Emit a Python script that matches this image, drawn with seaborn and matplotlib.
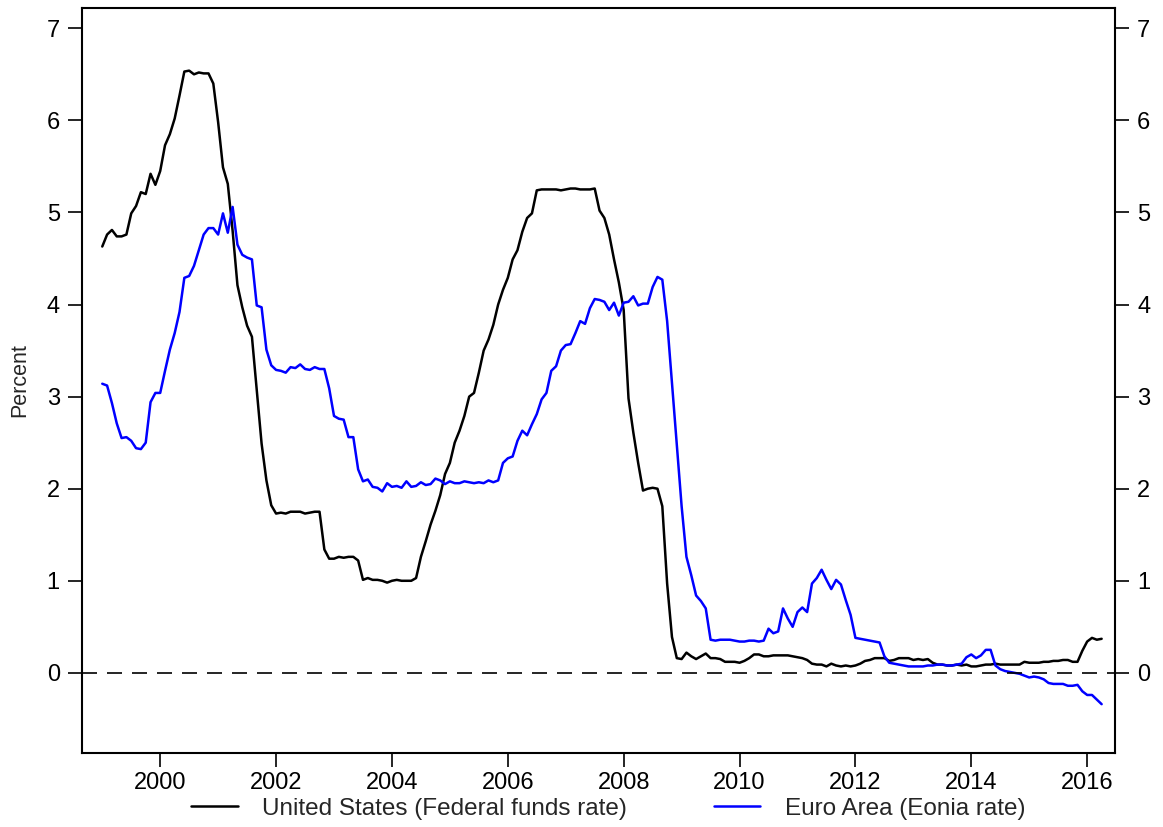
import pandas as pd
import matplotlib
matplotlib.use("Agg")
import matplotlib.pyplot as plt
import seaborn as sns

# monthly averages, Jan 1999 - Apr 2016
fed_funds = [
    4.63, 4.76, 4.81, 4.74, 4.74, 4.76, 4.99, 5.07, 5.22, 5.20, 5.42, 5.30,
    5.45, 5.73, 5.85, 6.02, 6.27, 6.53, 6.54, 6.50, 6.52, 6.51, 6.51, 6.40,
    5.98, 5.49, 5.31, 4.80, 4.21, 3.97, 3.77, 3.65, 3.07, 2.49, 2.09, 1.82,
    1.73, 1.74, 1.73, 1.75, 1.75, 1.75, 1.73, 1.74, 1.75, 1.75, 1.34, 1.24,
    1.24, 1.26, 1.25, 1.26, 1.26, 1.22, 1.01, 1.03, 1.01, 1.01, 1.00, 0.98,
    1.00, 1.01, 1.00, 1.00, 1.00, 1.03, 1.26, 1.43, 1.61, 1.76, 1.93, 2.16,
    2.28, 2.50, 2.63, 2.79, 3.00, 3.04, 3.26, 3.50, 3.62, 3.78, 4.00, 4.16,
    4.29, 4.49, 4.59, 4.79, 4.94, 4.99, 5.24, 5.25, 5.25, 5.25, 5.25, 5.24,
    5.25, 5.26, 5.26, 5.25, 5.25, 5.25, 5.26, 5.02, 4.94, 4.76, 4.49, 4.24,
    3.94, 2.98, 2.61, 2.28, 1.98, 2.00, 2.01, 2.00, 1.81, 0.97, 0.39, 0.16,
    0.15, 0.22, 0.18, 0.15, 0.18, 0.21, 0.16, 0.16, 0.15, 0.12, 0.12, 0.12,
    0.11, 0.13, 0.16, 0.20, 0.20, 0.18, 0.18, 0.19, 0.19, 0.19, 0.19, 0.18,
    0.17, 0.16, 0.14, 0.10, 0.09, 0.09, 0.07, 0.10, 0.08, 0.07, 0.08, 0.07,
    0.08, 0.10, 0.13, 0.14, 0.16, 0.16, 0.16, 0.13, 0.14, 0.16, 0.16, 0.16,
    0.14, 0.15, 0.14, 0.15, 0.11, 0.09, 0.09, 0.08, 0.08, 0.09, 0.08, 0.09,
    0.07, 0.07, 0.08, 0.09, 0.09, 0.10, 0.09, 0.09, 0.09, 0.09, 0.09, 0.12,
    0.11, 0.11, 0.11, 0.12, 0.12, 0.13, 0.13, 0.14, 0.14, 0.12, 0.12, 0.24,
    0.34, 0.38, 0.36, 0.37,
]
eonia = [
    3.14, 3.12, 2.93, 2.71, 2.55, 2.56, 2.52, 2.44, 2.43, 2.50, 2.94, 3.04,
    3.04, 3.28, 3.51, 3.69, 3.92, 4.29, 4.31, 4.42, 4.59, 4.76, 4.83, 4.83,
    4.76, 4.99, 4.78, 5.06, 4.65, 4.54, 4.51, 4.49, 3.99, 3.97, 3.51, 3.34,
    3.29, 3.28, 3.26, 3.32, 3.31, 3.35, 3.30, 3.29, 3.32, 3.30, 3.30, 3.09,
    2.79, 2.76, 2.75, 2.56, 2.56, 2.21, 2.08, 2.10, 2.02, 2.01, 1.97, 2.06,
    2.02, 2.03, 2.01, 2.08, 2.02, 2.03, 2.07, 2.04, 2.05, 2.11, 2.09, 2.05,
    2.08, 2.06, 2.06, 2.08, 2.07, 2.06, 2.07, 2.06, 2.09, 2.07, 2.09, 2.28,
    2.33, 2.35, 2.52, 2.63, 2.58, 2.70, 2.81, 2.97, 3.04, 3.28, 3.33, 3.50,
    3.56, 3.57, 3.69, 3.82, 3.79, 3.96, 4.06, 4.05, 4.03, 3.94, 4.02, 3.88,
    4.02, 4.03, 4.09, 3.99, 4.01, 4.01, 4.19, 4.30, 4.27, 3.82, 3.15, 2.49,
    1.81, 1.26, 1.06, 0.84, 0.78, 0.70, 0.36, 0.35, 0.36, 0.36, 0.36, 0.35,
    0.34, 0.34, 0.35, 0.35, 0.34, 0.35, 0.48, 0.43, 0.45, 0.70, 0.59, 0.50,
    0.66, 0.71, 0.66, 0.97, 1.03, 1.12, 1.01, 0.91, 1.01, 0.96, 0.79, 0.63,
    0.38, 0.37, 0.36, 0.35, 0.34, 0.33, 0.18, 0.11, 0.10, 0.09, 0.08, 0.07,
    0.07, 0.07, 0.07, 0.08, 0.08, 0.09, 0.09, 0.08, 0.08, 0.09, 0.10, 0.17,
    0.20, 0.16, 0.19, 0.25, 0.25, 0.08, 0.04, 0.02, 0.01, 0.00, -0.01, -0.03,
    -0.05, -0.04, -0.05, -0.07, -0.11, -0.12, -0.12, -0.12, -0.14, -0.14, -0.13, -0.20,
    -0.24, -0.24, -0.29, -0.34,
]
series_names = ["United States (Federal funds rate)", "Euro Area (Eonia rate)"]
year_ticks = list(range(2000, 2017, 2))
pct_ticks = list(range(0, 8))

dates = pd.date_range("1999-01-01", periods=len(fed_funds), freq="MS")
year_frac = dates.year + (dates.month - 1) / 12

df = pd.concat([
    pd.DataFrame({"date": year_frac, "rate": fed_funds, "series": series_names[0]}),
    pd.DataFrame({"date": year_frac, "rate": eonia, "series": series_names[1]}),
])

sns.set_style("ticks")
plt.rcParams["font.family"] = ["Liberation Sans", "DejaVu Sans"]

fig = plt.figure(figsize=(11.63, 8.27), dpi=100)
ax = fig.add_axes([0.0705, 0.0895, 0.8882, 0.9008])

sns.lineplot(data=df, x="date", y="rate", hue="series",
             palette=["black", "blue"], linewidth=1.8, ax=ax)
ax.axhline(0, color="black", linestyle=(0, (9, 6)), linewidth=1.2)

ax.set_xlim(1998.65, 2016.48)
ax.set_ylim(-0.87, 7.22)
ax.set_xticks(year_ticks)
ax.set_yticks(pct_ticks)
ax.set_xlabel("")
ax.set_ylabel("Percent", fontsize=15.5, labelpad=12)
ax.tick_params(axis="both", direction="out", length=10, width=1.2,
               labelsize=17, color="black", labelcolor="black")
ax.tick_params(axis="x", pad=4)
ax.tick_params(axis="y", right=True, labelright=True, pad=6)
for sp in ax.spines.values():
    sp.set_visible(True)
    sp.set_linewidth(1.5)
    sp.set_color("black")

handles, labels = ax.get_legend_handles_labels()
ax.get_legend().remove()
fig.legend(handles, labels, loc="center", bbox_to_anchor=(0.523, 0.022),
           ncol=2, frameon=False, fontsize=17.5, handlelength=1.9,
           columnspacing=3.6, handletextpad=1.0)

fig.savefig("out.png", dpi=100)
